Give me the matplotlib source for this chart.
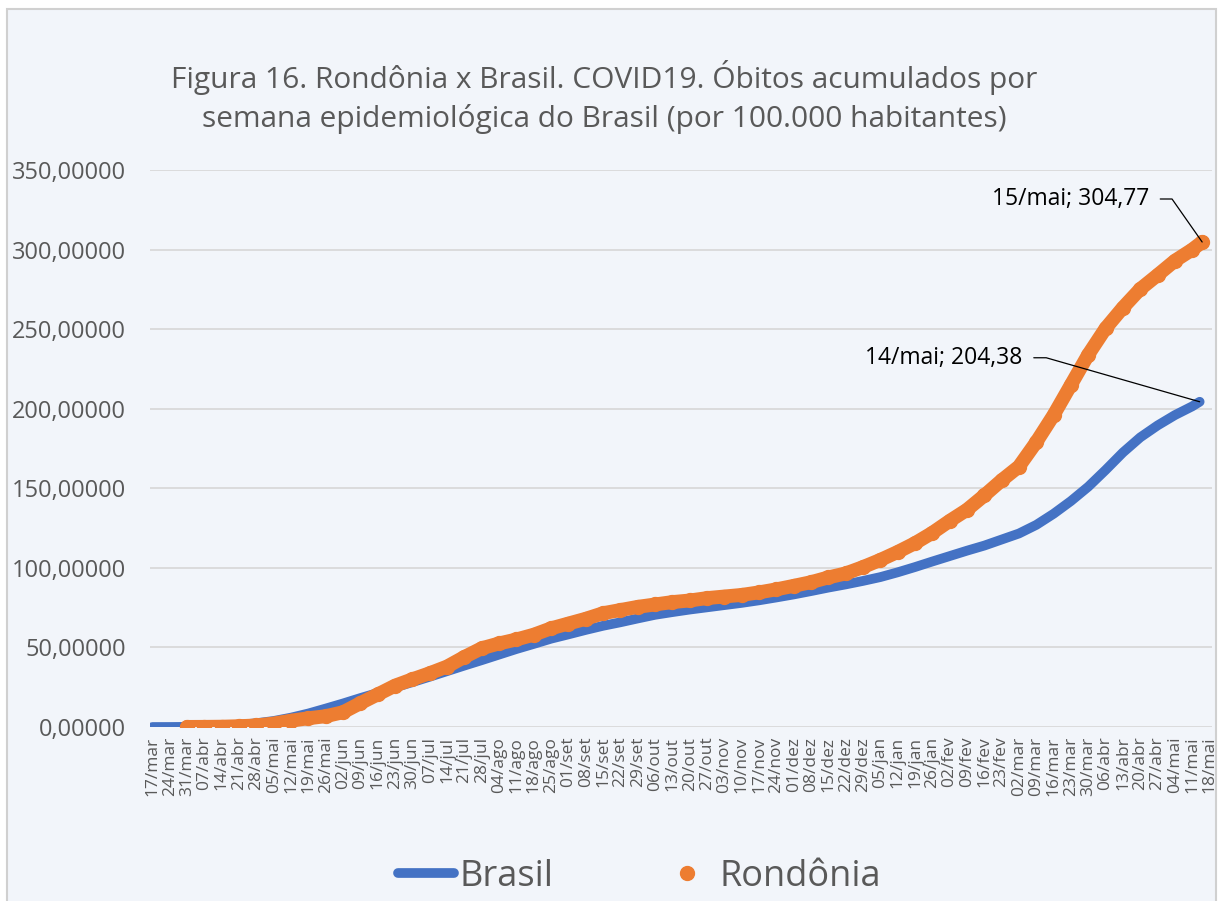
import matplotlib
matplotlib.use('Agg')
import matplotlib.pyplot as plt
import pandas as pd
from matplotlib.lines import Line2D
from matplotlib.patches import Rectangle

plt.rcParams['font.family'] = ['Open Sans', 'DejaVu Sans']

# semanas epidemiologicas (terças), 17/mar/2020 .. 18/mai/2021
weeks = pd.date_range('2020-03-17', '2021-05-18', freq='7D')
tick_labels = ['17/mar', '24/mar', '31/mar', '07/abr', '14/abr', '21/abr', '28/abr', '05/mai', '12/mai', '19/mai',
               '26/mai', '02/jun', '09/jun', '16/jun', '23/jun', '30/jun', '07/jul', '14/jul', '21/jul', '28/jul',
               '04/ago', '11/ago', '18/ago', '25/ago', '01/set', '08/set', '15/set', '22/set', '29/set', '06/out',
               '13/out', '20/out', '27/out', '03/nov', '10/nov', '17/nov', '24/nov', '01/dez', '08/dez', '15/dez',
               '22/dez', '29/dez', '05/jan', '12/jan', '19/jan', '26/jan', '02/fev', '09/fev', '16/fev', '23/fev',
               '02/mar', '09/mar', '16/mar', '23/mar', '30/mar', '06/abr', '13/abr', '20/abr', '27/abr', '04/mai',
               '11/mai', '18/mai']

# obitos acumulados por 100.000 hab.
brasil = [0.0, 0.02, 0.1, 0.3, 0.7, 1.3, 2.4, 3.8, 5.9, 8.5,
          11.6, 14.8, 18.2, 21.4, 24.9, 28.2, 31.6, 35.1, 38.6, 42.0,
          45.5, 49.0, 52.2, 55.5, 58.2, 61.0, 63.6, 65.8, 68.2, 70.5,
          72.2, 73.8, 75.2, 76.6, 78.0, 79.6, 81.4, 83.3, 85.4, 87.6,
          89.6, 91.8, 94.2, 97.2, 100.5, 104.0, 107.4, 110.8, 114.0, 117.8,
          121.6, 127.0, 134.0, 142.0, 151.0, 161.5, 172.5, 182.0, 189.5, 196.0,
          201.5, 204.38]
rondonia = [0.05, 0.1, 0.2, 0.5, 1.0, 2.2, 4.0, 5.5,
            6.8, 9.3, 15.0, 20.5, 26.0, 30.0, 33.8, 38.0, 44.0, 49.5,
            52.5, 55.0, 58.0, 62.0, 65.0, 68.0, 71.5, 73.5, 75.5, 77.0,
            78.5, 79.5, 81.0, 82.0, 83.0, 84.6, 86.5, 88.7, 91.0, 94.0,
            96.5, 100.5, 105.0, 110.0, 115.5, 122.0, 129.5, 136.5, 145.5, 155.0,
            163.7, 179.0, 196.0, 215.0, 234.0, 250.5, 263.5, 275.2, 284.0, 293.0,
            300.0, 304.77]

brasil_dates = list(weeks[:-1]) + [pd.Timestamp('2021-05-14')]
rondonia_dates = list(weeks[2:-1]) + [pd.Timestamp('2021-05-15')]

BLUE = '#4472C4'
ORANGE = '#ED7D31'
GRAY = '#595959'
BG = '#F2F5FA'

fig = plt.figure(figsize=(12.19, 9.01), dpi=100)
fig.patches.append(Rectangle((0.0057, -0.02), 0.992, 1.01, transform=fig.transFigure,
                             facecolor=BG, edgecolor='#D0D0D0', lw=1.5, zorder=-10))
ax = fig.add_axes([0.123, 0.1931, 0.8713, 0.6182])
ax.patch.set_alpha(0)

ax.plot(brasil_dates, brasil, color=BLUE, lw=7, solid_capstyle='round', solid_joinstyle='round', zorder=3)
ax.plot(rondonia_dates, rondonia, color=ORANGE, lw=10, marker='o', ms=10, mec=ORANGE,
        solid_capstyle='round', solid_joinstyle='round', zorder=4)

ax.set_ylim(0, 350)
ax.set_yticks(range(0, 351, 50))
ax.set_yticklabels([f'{v:,.5f}'.replace('.', ',') for v in range(0, 351, 50)])
ax.set_xlim(pd.Timestamp('2020-03-16'), pd.Timestamp('2021-05-19'))
ax.set_xticks(weeks)
ax.set_xticklabels(tick_labels, rotation=90)
ax.tick_params(axis='y', length=0, pad=17, labelsize=17, labelcolor=GRAY)
ax.tick_params(axis='x', length=0, pad=7, labelsize=12.5, labelcolor=GRAY)
ax.grid(axis='y', color='#D9D9D9', lw=1.3)
ax.set_axisbelow(True)
for s in ax.spines.values():
    s.set_visible(False)

# rotulos dos ultimos pontos
ax.annotate('15/mai; 304,77', xy=(rondonia_dates[-1], rondonia[-1]), xytext=(-53, 43),
            textcoords='offset pixels', ha='right', va='center', fontsize=16.5, color='black',
            arrowprops=dict(arrowstyle='-', color='black', lw=0.9, shrinkA=6, shrinkB=0,
                            connectionstyle='angle,angleA=0,angleB=125,rad=0'), zorder=6)
ax.annotate('14/mai; 204,38', xy=(brasil_dates[-1], brasil[-1]), xytext=(-177, 44),
            textcoords='offset pixels', ha='right', va='center', fontsize=16.5, color='black',
            arrowprops=dict(arrowstyle='-', color='black', lw=0.9, shrinkA=6, shrinkB=0,
                            connectionstyle='angle,angleA=0,angleB=164,rad=0'), zorder=6)

fig.text(0.496, 0.892, 'Figura 16. Rondônia x Brasil. COVID19. Óbitos acumulados por\n'
         'semana epidemiológica do Brasil (por 100.000 habitantes)',
         ha='center', va='center', fontsize=21.5, color=GRAY, linespacing=1.4)

handles = [Line2D([], [], color=BLUE, lw=7, solid_capstyle='round'),
           Line2D([], [], ls='none', marker='o', ms=10, color=ORANGE)]
fig.legend(handles, ['Brasil', 'Rondônia'], loc='center', bbox_to_anchor=(0.525, 0.027), ncol=2,
           frameon=False, fontsize=26, labelcolor=GRAY, handlelength=1.55, handletextpad=0.15,
           columnspacing=2.9)

fig.savefig('out.png', dpi=100, facecolor='white')
